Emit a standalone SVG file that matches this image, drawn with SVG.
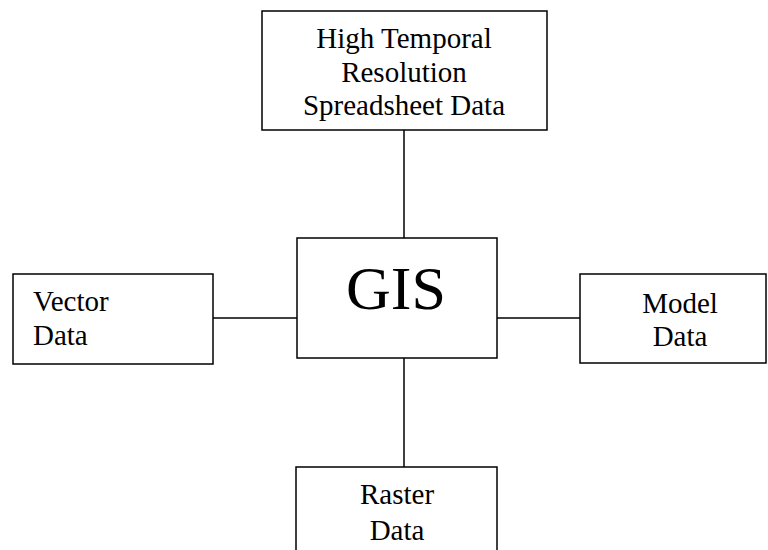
<svg xmlns="http://www.w3.org/2000/svg" width="768" height="550" viewBox="0 0 768 550">
<style>
.box{fill:#fff;stroke:#000;stroke-width:1.5}
.ln{stroke:#000;stroke-width:1.5;fill:none}
text{font-family:"Liberation Serif","Times New Roman",serif;font-size:29px;fill:#000}
.c{text-anchor:middle}
</style>
<rect width="768" height="550" fill="#fff"/>
<g id="connectors">
<line class="ln" x1="404" y1="130" x2="404" y2="238"/>
<line class="ln" x1="404" y1="358" x2="404" y2="467"/>
<line class="ln" x1="213" y1="318" x2="297" y2="318"/>
<line class="ln" x1="497" y1="318" x2="580" y2="318"/>
</g>
<g id="spreadsheet">
<rect class="box" x="262" y="11" width="285" height="119"/>
<text class="c" x="404" y="48">High Temporal</text>
<text class="c" x="404" y="82">Resolution</text>
<text class="c" x="404" y="115">Spreadsheet Data</text>
</g>
<g id="gis">
<rect class="box" x="297" y="238" width="200" height="120"/>
<text class="c" x="396" y="309" style="font-size:62px">GIS</text>
</g>
<g id="vector">
<rect class="box" x="13" y="274" width="200" height="90"/>
<text x="33" y="311">Vector</text>
<text x="33" y="345">Data</text>
</g>
<g id="model">
<rect class="box" x="580" y="274" width="186" height="89"/>
<text class="c" x="680" y="313">Model</text>
<text class="c" x="680" y="346">Data</text>
</g>
<g id="raster">
<rect class="box" x="296" y="467" width="201" height="100"/>
<text class="c" x="397" y="504">Raster</text>
<text class="c" x="397" y="540">Data</text>
</g>
</svg>
